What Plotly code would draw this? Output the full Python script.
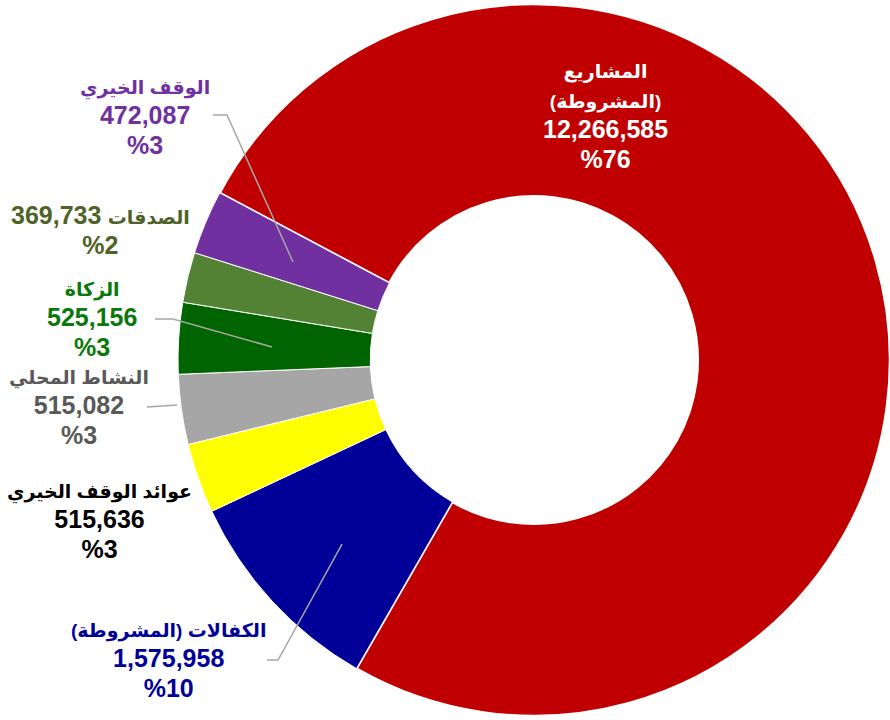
"""Donut chart of revenue sources (Arabic labels), values with percentage share."""
import plotly.graph_objects as go

W, H = 890, 720

LABELS = [
    "المشاريع (المشروطة)", "الكفالات (المشروطة)", "عوائد الوقف الخيري",
    "النشاط المحلي", "الزكاة", "الصدقات", "الوقف الخيري",
]
# how each name is written in its callout
CALLOUT_NAMES = [
    "المشاريع<br>(المشروطة)", "\u200fالكفالات (المشروطة)\u200f", "عوائد الوقف الخيري",
    "النشاط المحلي", "الزكاة", "الصدقات", "الوقف الخيري",
]
VALUES = [12266585, 1575958, 515636, 515082, 525156, 369733, 472087]
COLORS = ["#C00000", "#000099", "#FFFF00", "#A6A6A6", "#006400", "#548235", "#7030A0"]
TEXT_COLORS = ["white", "#000099", "black", "#595959", "#0A780A", "#4F6228", "#7030A0"]

# callout centres in pixels (x from left, y from top)
CALLOUT_POS = [(605, 117), (168, 661), (99, 522), (79, 408), (92, 320), (100, 230), (145, 118)]
# gray leader lines, pixels
LEADERS = [
    [(213, 115), (227, 115), (293, 262)],
    [(155, 319), (173, 319), (272, 347)],
    [(147, 407), (177, 405)],
    [(267, 660), (278, 660), (342, 544)],
]

AR = "<span style='font-size:19px'>{}</span>"
NUM = "<span style='font-size:25px'>{}</span>"


def paper(x, y):
    return x / W, 1 - y / H


def main():
    total = sum(VALUES)

    fig = go.Figure(go.Pie(
        labels=LABELS,
        values=VALUES,
        sort=False,
        direction="clockwise",
        rotation=-62,
        hole=0.46,
        marker=dict(colors=COLORS, line=dict(color="white", width=[2.5, 1, 1, 1, 1, 1, 1])),
        textinfo="none",
        hoverinfo="label+value+percent",
        showlegend=False,
        domain=dict(x=[0.2, 1.0], y=[0.0, 1.0]),
    ))

    for name, val, col, (px_, py_) in zip(CALLOUT_NAMES, VALUES, TEXT_COLORS, CALLOUT_POS):
        pct = NUM.format(f"%{round(100 * val / total)}")
        num = NUM.format(f"{val:,}")
        if name == "الصدقات":
            txt = f"<b>{num} {AR.format(name)}<br>{pct}</b>"
        else:
            ar = "<br>".join(AR.format(part) for part in name.split("<br>"))
            txt = f"<b>{ar}<br>{num}<br>{pct}</b>"
        x, y = paper(px_, py_)
        fig.add_annotation(
            x=x, y=y, xref="paper", yref="paper", text=txt, showarrow=False,
            xanchor="center", yanchor="middle", align="center",
            font=dict(family="Arial, DejaVu Sans", size=23, color=col),
        )

    for pts in LEADERS:
        path = ""
        for i, (px_, py_) in enumerate(pts):
            x, y = paper(px_, py_)
            path += ("M" if i == 0 else " L") + f" {x:.4f} {y:.4f}"
        fig.add_shape(type="path", path=path, xref="paper", yref="paper",
                      line=dict(color="#A6A6A6", width=1.5))

    fig.update_layout(
        width=W, height=H,
        margin=dict(l=0, r=0, t=0, b=0),
        paper_bgcolor="white",
        plot_bgcolor="white",
    )
    # drop the browser's default body margin so the figure sits at the page corner
    fig.write_html("out.html", config={"displayModeBar": False},
                   post_script="document.body.style.margin = '0';")


if __name__ == "__main__":
    main()
